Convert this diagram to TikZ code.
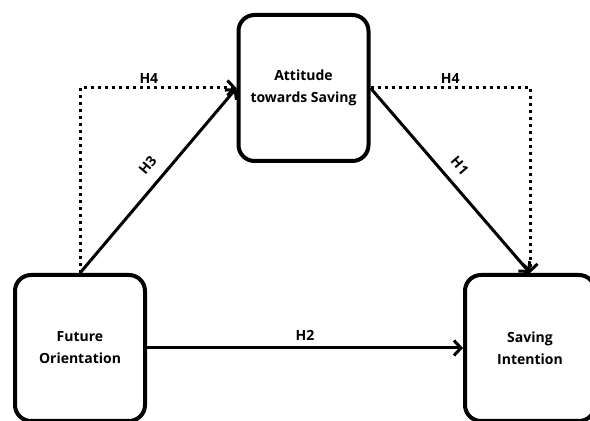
\documentclass[tikz,border=0pt]{standalone}
\usepackage{fontspec}
\setmainfont{Open Sans}
\usepackage{tikz}
\usetikzlibrary{arrows.meta}

\begin{document}
\begin{tikzpicture}[x=1pt,y=1pt,
  box/.style={draw,line width=4pt,rounded corners=16pt,align=center,inner sep=0pt,
    minimum width=130pt,font=\fontsize{14}{22}\selectfont\bfseries},
  link/.style={line width=3pt,-{Straight Barb[length=7pt,width=15pt]}},
  dotlink/.style={link,dash pattern=on 3pt off 4pt},
  lbl/.style={font=\fontsize{14}{17}\selectfont\bfseries}]
\useasboundingbox (0,0) rectangle (590,421);

\node[box,minimum height=146pt] (att) at (303.5,333) {Attitude\\towards Saving};
\node[box,minimum height=146pt] (fut) at (80,73) {Future\\Orientation};
\node[box,minimum height=146pt] (sav) at (530,73) {Saving\\Intention};

\draw[dotlink] (fut.north) |- node[lbl,pos=0.72,above]{H4} (att.west);
\draw[dotlink] (att.east) -| node[lbl,pos=0.25,above]{H4} (sav.north);

\draw[link] (fut.north) -- node[lbl,sloped,above=8pt,pos=0.52]{H3} (att.west);
\draw[link] (att.east) -- node[lbl,sloped,above=7pt,pos=0.48]{H1} (sav.north);
\draw[link] (fut.east) -- node[lbl,above=3pt]{H2} (sav.west);

\end{tikzpicture}
\end{document}
